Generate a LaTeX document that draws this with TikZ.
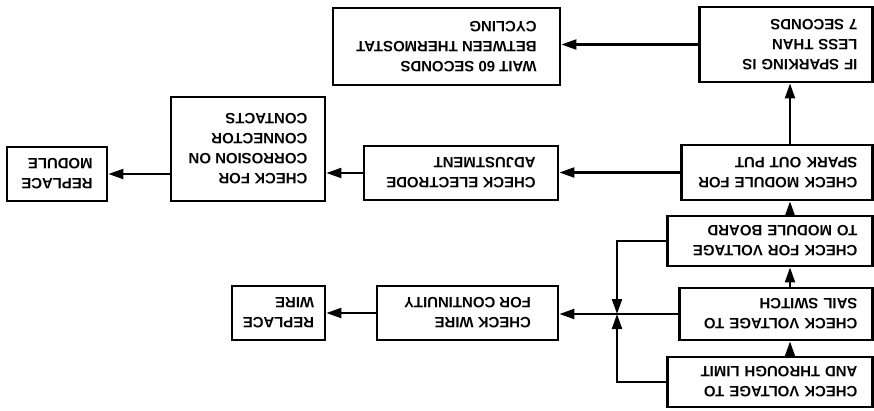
\documentclass[tikz,border=0pt]{standalone}
\usepackage{fontspec}
\setmainfont{Liberation Sans}
\usepackage{tikz}
\usetikzlibrary{arrows.meta}

\begin{document}
\begin{tikzpicture}[x=0.02cm, y=0.02cm, rotate=180,
    every node/.style={transform shape},
    box/.style={draw, line width=1.6pt, align=left, inner xsep=0.15cm,
      font=\bfseries\fontsize{8.5}{11.4}\selectfont},
    lbox/.style={box, inner xsep=0.3cm, text width=#1},
    arr/.style={line width=1.2pt, -{Triangle[length=0.3cm, width=0.2cm]}}]
    \useasboundingbox (0,0) rectangle (874,410);

    \node[lbox=3.5cm, minimum width=4.1cm, minimum height=1cm] (limit) at (104,382) {CHECK VOLTAGE TO\\AND THROUGH LIMIT};
    \node[lbox=3.26cm, minimum width=3.86cm, minimum height=1.04cm] (sail) at (98,314) {CHECK VOLTAGE TO\\SAIL SWITCH};
    \node[lbox=3.5cm, minimum width=4.1cm, minimum height=1cm] (board) at (104,241) {CHECK FOR VOLTAGE\\TO MODULE BOARD};
    \node[lbox=3.22cm, minimum width=3.82cm, minimum height=1.1cm] (module) at (97,172.5) {CHECK MODULE FOR\\SPARK OUT PUT};
    \node[lbox=2.86cm, minimum width=3.46cm, minimum height=1.5cm] (spark) at (88,44.5) {IF SPARKING IS\\LESS THAN\\7 SECONDS};

    \node[box, minimum width=4.54cm, minimum height=1.54cm] (wait) at (427.5,46.5) {WAIT 60 SECONDS\\BETWEEN THERMOSTAT\\CYCLING};
    \node[box, minimum width=3.88cm, minimum height=1.08cm] (electrode) at (413,173) {CHECK ELECTRODE\\ADJUSTMENT};
    \node[box, minimum width=3.08cm, minimum height=2.08cm] (corrosion) at (626,149) {CHECK FOR\\CORROSION ON\\CONNECTOR\\CONTACTS};
    \node[box, minimum width=2cm, minimum height=1.08cm] (rmodule) at (817,174) {REPLACE\\MODULE};
    \node[box, minimum width=3.62cm, minimum height=1.08cm] (wire) at (406.5,313) {CHECK WIRE\\FOR CONTINUITY};
    \node[box, minimum width=1.86cm, minimum height=1.08cm] (rwire) at (595.5,313) {REPLACE\\WIRE};

    \coordinate (spine) at (84,0);
    \coordinate (jct) at (257,314);

    \draw[arr] (limit.south -| spine) -- (sail.north -| spine);
    \draw[arr] (sail.south -| spine) -- (board.north -| spine);
    \draw[arr] (board.south -| spine) -- (module.north -| spine);
    \draw[arr] (module.south -| spine) -- (spark.north -| spine);

    \draw[arr] (spark.east) -- (spark.east -| wait.west);
    \draw[arr] (module.east) -- (module.east -| electrode.west);
    \draw[arr] (electrode.east) -- (electrode.east -| corrosion.west);
    \draw[arr] (rmodule.west -| corrosion.east) -- (rmodule.west);

    \draw[arr] (sail.east) -- (sail.east -| wire.west);
    \draw[arr] (wire.east) -- (rwire.west);
    \draw[arr] (board.east) -| (jct);
    \draw[arr] (limit.east) -| (jct);
\end{tikzpicture}
\end{document}
